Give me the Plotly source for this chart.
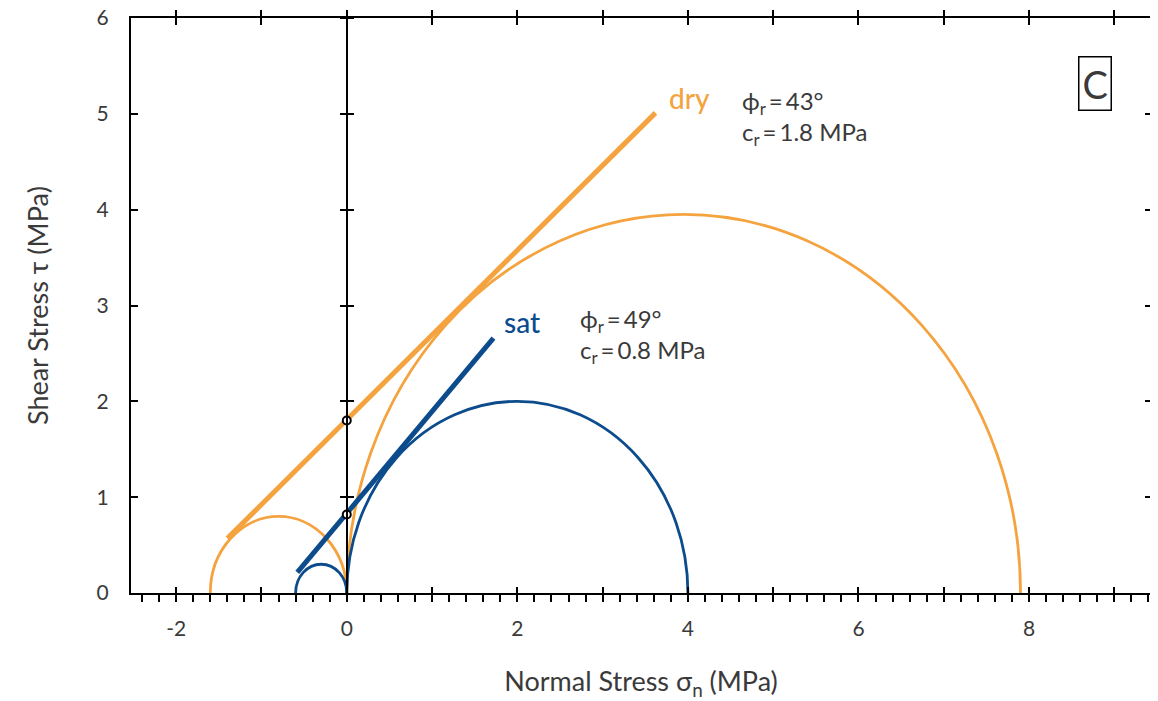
import plotly.graph_objects as go

# ---- data ----
dry_circle_centers = [-0.8, 3.95]
dry_circle_radii = [0.8, 3.95]
sat_circle_centers = [-0.3, 2.0]
sat_circle_radii = [0.3, 2.0]

dry_line_x = [-1.40, 3.62]
dry_line_y = [0.57, 5.01]
sat_line_x = [-0.58, 1.72]
sat_line_y = [0.215, 2.66]

intercept_x = [0, 0]
intercept_y = [1.8, 0.82]

x_labeled = [-2, 0, 2, 4, 6, 8]
x_label_text = ["-2", "0", "2", "4", "6", "8"]
x_major = list(range(-2, 10))
y_major = list(range(0, 7))

ORANGE = "#f4a33f"
BLUE = "#0c4c8c"
TEXT = "#3a3a3a"
FONT = "Lato"

XR = [-2.53, 9.43]
YR = [0, 6]

fig = go.Figure()

fig.add_trace(go.Scatter(x=dry_line_x, y=dry_line_y, mode="lines",
                         line=dict(color=ORANGE, width=5), showlegend=False, hoverinfo="skip"))
fig.add_trace(go.Scatter(x=sat_line_x, y=sat_line_y, mode="lines",
                         line=dict(color=BLUE, width=5), showlegend=False, hoverinfo="skip"))
fig.add_trace(go.Scatter(x=intercept_x, y=intercept_y, mode="markers",
                         marker=dict(symbol="circle", size=8, color="white",
                                     line=dict(color="black", width=2)),
                         showlegend=False, hoverinfo="skip"))

for xa, ya in [("x2", "y2"), ("x3", "y3"), ("x4", "y4"), ("x", "y5")]:
    fig.add_trace(go.Scatter(x=[None], y=[None], xaxis=xa, yaxis=ya,
                             showlegend=False, hoverinfo="skip"))

for c, r in zip(dry_circle_centers, dry_circle_radii):
    fig.add_shape(type="circle", xref="x", yref="y", x0=c - r, x1=c + r, y0=-r, y1=r,
                  line=dict(color=ORANGE, width=2.8), layer="below")
for c, r in zip(sat_circle_centers, sat_circle_radii):
    fig.add_shape(type="circle", xref="x", yref="y", x0=c - r, x1=c + r, y0=-r, y1=r,
                  line=dict(color=BLUE, width=2.8), layer="below")

tickfont = dict(family=FONT, size=21, color=TEXT)
common_x = dict(range=XR, autorange=False, showgrid=False, zeroline=False, automargin=False)
common_y = dict(range=YR, autorange=False, showgrid=False, zeroline=False, automargin=False)

zero_pos = (0 - XR[0]) / (XR[1] - XR[0])

fig.update_layout(
    width=1150, height=693,
    margin=dict(l=123, r=7, t=10, b=108),
    paper_bgcolor="white", plot_bgcolor="white",
    font=dict(family=FONT, color=TEXT),
    xaxis=dict(**common_x, side="bottom", showline=True, linecolor="black", linewidth=2,
               tickvals=x_labeled, ticktext=x_label_text, ticks="outside", ticklen=6,
               tickwidth=2, tickcolor="black", tickfont=tickfont, ticklabelstandoff=10,
               ticklabeloverflow="allow",
               minor=dict(ticks="outside", tick0=0, dtick=0.2, ticklen=7, tickwidth=1.5,
                          tickcolor="black"),
               title=dict(text="Normal Stress σ<sub>n</sub> (MPa)",
                          font=dict(family=FONT, size=27, color=TEXT), standoff=34)),
    xaxis2=dict(**common_x, overlaying="x", anchor="y", side="bottom", showline=False,
                tickvals=x_major, ticks="inside", ticklen=6, tickwidth=2, tickcolor="black",
                showticklabels=False),
    xaxis3=dict(**common_x, overlaying="x", anchor="y", side="top", showline=True,
                linecolor="black", linewidth=2,
                tickvals=x_major, ticks="outside", ticklen=6, tickwidth=2, tickcolor="black",
                showticklabels=False),
    xaxis4=dict(**common_x, overlaying="x", anchor="y", side="top", showline=False,
                tickvals=x_major, ticks="inside", ticklen=7, tickwidth=2, tickcolor="black",
                showticklabels=False),
    yaxis=dict(**common_y, side="left", showline=True, linecolor="black", linewidth=2,
               tickvals=y_major, ticks="inside", ticklen=7, tickwidth=2, tickcolor="black",
               tickfont=tickfont, ticklabelstandoff=16, ticklabeloverflow="allow",
               title=dict(text="Shear Stress τ (MPa)",
                          font=dict(family=FONT, size=27, color=TEXT), standoff=40)),
    yaxis2=dict(**common_y, overlaying="y", anchor="x", side="right", showline=True,
                linecolor="black", linewidth=2,
                tickvals=y_major, ticks="outside", ticklen=6, tickwidth=2, tickcolor="black",
                showticklabels=False),
    yaxis3=dict(**common_y, overlaying="y", anchor="x", side="right", showline=False,
                tickvals=y_major, ticks="inside", ticklen=6, tickwidth=2, tickcolor="black",
                showticklabels=False),
    yaxis4=dict(**common_y, overlaying="y", anchor="free", position=zero_pos, side="left",
                showline=True, linecolor="black", linewidth=2,
                tickvals=y_major[1:], ticks="outside", ticklen=6, tickwidth=2,
                tickcolor="black", showticklabels=False),
    yaxis5=dict(**common_y, overlaying="y", anchor="free", position=zero_pos, side="right",
                showline=False,
                tickvals=y_major[1:], ticks="outside", ticklen=6, tickwidth=2,
                tickcolor="black", showticklabels=False),
)

EQ = "\u2009=\u2009"
fig.add_annotation(x=4.02, y=5.17, xref="x", yref="y", text="dry", showarrow=False,
                   font=dict(family=FONT, size=28, color=ORANGE, weight=500))
fig.add_annotation(x=4.61, y=4.96, xref="x", yref="y", xanchor="left", align="left",
                   text=f"ϕ<sub>r</sub>{EQ}43°<br>c<sub>r</sub>{EQ}1.8 MPa", showarrow=False,
                   font=dict(family=FONT, size=24, color=TEXT))
fig.add_annotation(x=2.05, y=2.83, xref="x", yref="y", text="sat", showarrow=False,
                   font=dict(family=FONT, size=28, color=BLUE, weight=500))
fig.add_annotation(x=2.71, y=2.68, xref="x", yref="y", xanchor="left", align="left",
                   text=f"ϕ<sub>r</sub>{EQ}49°<br>c<sub>r</sub>{EQ}0.8 MPa", showarrow=False,
                   font=dict(family=FONT, size=24, color=TEXT))
fig.add_annotation(x=8.77, y=5.32, xref="x", yref="y", text="C", showarrow=False,
                   font=dict(family=FONT, size=38, color=TEXT),
                   bordercolor="black", borderwidth=1.5, borderpad=3, bgcolor="white")

fig.write_html("out.html")
